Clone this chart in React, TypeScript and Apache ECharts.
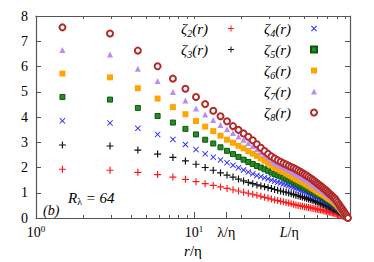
import React, { useEffect, useRef } from 'react';
import * as echarts from 'echarts';

// r/eta positions of the samples (evenly spaced in r)
const R = [
  1.47, 2.94, 4.41, 5.88, 7.35, 8.82, 10.29, 11.76, 13.23, 14.7, 16.17, 17.64, 19.11, 20.58, 22.05, 23.52,
  24.99, 26.46, 27.93, 29.4, 30.87, 32.34, 33.81, 35.28, 36.75, 38.22, 39.69, 41.16, 42.63, 44.1, 45.57, 47.04,
  48.51, 49.98, 51.45, 52.92, 54.39, 55.86, 57.33, 58.8, 60.27, 61.74, 63.21, 64.68, 66.15, 67.62, 69.09, 70.56,
  72.03, 73.5, 74.97, 76.44, 77.91, 79.38, 80.85, 82.32, 83.79, 85.26, 86.73, 88.2, 89.67, 91.14, 92.61, 94.08,
];

const ZETA2 = [
  1.93, 1.89, 1.81, 1.72, 1.62, 1.53, 1.44, 1.36, 1.29, 1.23, 1.17, 1.12, 1.07, 1.02, 0.98, 0.94,
  0.9, 0.86, 0.82, 0.79, 0.75, 0.71, 0.69, 0.66, 0.64, 0.61, 0.59, 0.56, 0.54, 0.51, 0.5, 0.48,
  0.47, 0.45, 0.44, 0.42, 0.41, 0.39, 0.38, 0.36, 0.35, 0.33, 0.32, 0.31, 0.29, 0.28, 0.26, 0.25,
  0.24, 0.22, 0.21, 0.19, 0.18, 0.16, 0.15, 0.13, 0.11, 0.1, 0.08, 0.07, 0.05, 0.03, 0.02, 0.0,
];
const ZETA3 = [
  2.89, 2.85, 2.69, 2.53, 2.4, 2.26, 2.13, 2.0, 1.89, 1.79, 1.7, 1.62, 1.54, 1.47, 1.41, 1.36,
  1.31, 1.27, 1.24, 1.2, 1.17, 1.13, 1.1, 1.07, 1.04, 1.02, 0.99, 0.96, 0.93, 0.9, 0.88, 0.85,
  0.83, 0.8, 0.78, 0.75, 0.73, 0.7, 0.68, 0.65, 0.63, 0.6, 0.58, 0.55, 0.53, 0.51, 0.48, 0.46,
  0.44, 0.41, 0.39, 0.36, 0.34, 0.31, 0.28, 0.25, 0.22, 0.19, 0.15, 0.12, 0.09, 0.06, 0.03, 0.0,
];
const ZETA4 = [
  3.85, 3.76, 3.55, 3.31, 3.11, 2.91, 2.71, 2.54, 2.41, 2.3, 2.19, 2.09, 1.99, 1.9, 1.82, 1.75,
  1.68, 1.64, 1.59, 1.55, 1.5, 1.46, 1.42, 1.39, 1.35, 1.32, 1.28, 1.24, 1.21, 1.17, 1.14, 1.1,
  1.07, 1.04, 1.01, 0.97, 0.94, 0.91, 0.87, 0.84, 0.81, 0.78, 0.75, 0.72, 0.69, 0.66, 0.64, 0.61,
  0.58, 0.55, 0.52, 0.49, 0.46, 0.42, 0.38, 0.33, 0.29, 0.25, 0.21, 0.17, 0.13, 0.08, 0.04, 0.0,
];
const ZETA5 = [
  4.79, 4.69, 4.36, 4.04, 3.78, 3.53, 3.31, 3.1, 2.95, 2.8, 2.66, 2.53, 2.42, 2.31, 2.22, 2.14,
  2.06, 2.0, 1.93, 1.87, 1.8, 1.74, 1.69, 1.65, 1.6, 1.55, 1.5, 1.46, 1.41, 1.36, 1.32, 1.28,
  1.24, 1.2, 1.17, 1.13, 1.09, 1.05, 1.01, 0.97, 0.94, 0.9, 0.87, 0.83, 0.8, 0.77, 0.73, 0.7,
  0.67, 0.63, 0.6, 0.56, 0.53, 0.48, 0.43, 0.39, 0.34, 0.29, 0.24, 0.19, 0.14, 0.1, 0.05, 0.0,
];
const ZETA6 = [
  5.72, 5.57, 5.14, 4.73, 4.39, 4.11, 3.84, 3.62, 3.44, 3.26, 3.1, 2.98, 2.86, 2.76, 2.65, 2.55,
  2.46, 2.36, 2.27, 2.17, 2.08, 1.98, 1.93, 1.87, 1.82, 1.76, 1.71, 1.66, 1.6, 1.55, 1.51, 1.46,
  1.42, 1.37, 1.33, 1.28, 1.24, 1.19, 1.15, 1.1, 1.06, 1.02, 0.98, 0.95, 0.91, 0.87, 0.83, 0.79,
  0.75, 0.72, 0.68, 0.64, 0.6, 0.55, 0.49, 0.44, 0.38, 0.33, 0.27, 0.22, 0.16, 0.11, 0.05, 0.0,
];
const ZETA7 = [
  6.65, 6.48, 5.91, 5.43, 4.99, 4.65, 4.34, 4.1, 3.88, 3.68, 3.51, 3.37, 3.23, 3.1, 2.97, 2.85,
  2.72, 2.61, 2.5, 2.4, 2.29, 2.18, 2.13, 2.07, 2.02, 1.96, 1.91, 1.86, 1.8, 1.75, 1.7, 1.65,
  1.6, 1.55, 1.51, 1.46, 1.41, 1.36, 1.31, 1.26, 1.22, 1.17, 1.13, 1.08, 1.04, 0.99, 0.95, 0.9,
  0.86, 0.81, 0.77, 0.72, 0.68, 0.62, 0.56, 0.49, 0.43, 0.37, 0.31, 0.25, 0.19, 0.12, 0.06, 0.0,
];
const ZETA8 = [
  7.55, 7.31, 6.63, 6.01, 5.52, 5.12, 4.79, 4.51, 4.25, 4.03, 3.83, 3.64, 3.49, 3.35, 3.22, 3.08,
  2.92, 2.78, 2.65, 2.54, 2.44, 2.36, 2.29, 2.23, 2.17, 2.12, 2.07, 2.02, 1.98, 1.93, 1.88, 1.83,
  1.78, 1.73, 1.68, 1.63, 1.58, 1.53, 1.48, 1.42, 1.37, 1.32, 1.27, 1.22, 1.17, 1.12, 1.07, 1.01,
  0.96, 0.91, 0.86, 0.81, 0.76, 0.69, 0.62, 0.55, 0.48, 0.41, 0.35, 0.28, 0.21, 0.14, 0.07, 0.0,
];

const SERIES_NAMES = ['ζ2(r)', 'ζ3(r)', 'ζ4(r)', 'ζ5(r)', 'ζ6(r)', 'ζ7(r)', 'ζ8(r)'];
const SERIES_VALUES = [ZETA2, ZETA3, ZETA4, ZETA5, ZETA6, ZETA7, ZETA8];

const X_MIN = 1;
const X_MAX = 97;
const LAMBDA_ETA = 16;
const L_ETA = 40;
const X_MINOR_TICKS = [2, 3, 4, 5, 6, 7, 8, 9, 20, 30, 40, 50, 60, 70, 80, 90];
const X_TOP_TICKS = [2, 3, 4, 5, 6, 7, 8, 9, 10, 20, 30, 40, 50, 60, 70, 80, 90];
const X_MAJOR_TICKS = [10, LAMBDA_ETA, L_ETA];
const X_LABEL_VALUES = [1, 10, LAMBDA_ETA, L_ETA];
const Y_MIN = 0;
const Y_MAX = 8;
const Y_STEP = 1;

const SERIF = '"Liberation Serif", "Times New Roman", serif';
const AXIS_COLOR = '#555';
const PLUS = 'path://M5,0H7V5H12V7H7V12H5V7H0V5H5Z';
const CROSS = 'path://M0,1.3L1.3,0L6,4.7L10.7,0L12,1.3L7.3,6L12,10.7L10.7,12L6,7.3L1.3,12L0,10.7L4.7,6Z';

const STYLES: any[] = [
  { symbol: PLUS, size: 7, color: '#ff1a1a' },
  { symbol: PLUS, size: 7, color: '#111111' },
  { symbol: CROSS, size: 6, color: '#2b2bff' },
  { symbol: 'rect', size: 5, color: '#2a8a2a', border: '#0b5a0b', bw: 1 },
  { symbol: 'rect', size: 6, color: '#ffa500' },
  { symbol: 'triangle', size: 6, color: '#b98cf5' },
  { symbol: 'emptyCircle', size: 6, color: '#b22a2a', bw: 1.1 },
];

const legendRich = {
  z: { fontFamily: SERIF, fontStyle: 'italic', fontSize: 15, lineHeight: 20, color: '#000', verticalAlign: 'middle' },
  e: { fontFamily: SERIF, fontStyle: 'italic', fontSize: 15, lineHeight: 20, color: '#000', verticalAlign: 'middle', padding: [0, 15, 0, 0] },
  s: { fontFamily: SERIF, fontStyle: 'italic', fontSize: 10, lineHeight: 10, color: '#000', verticalAlign: 'bottom' },
};
const legendFormatter = (name: string) => {
  const p = name.slice(1, name.indexOf('('));
  return `{z|ζ}{s|${p}}{e|(r)}`;
};

const legendBase = {
  orient: 'vertical',
  align: 'right',
  top: 21,
  padding: 0,
  itemGap: 3.5,
  itemWidth: 6,
  itemHeight: 6,
  selectedMode: false,
  formatter: legendFormatter,
  textStyle: { rich: legendRich },
};

export default function App() {
  const ref = useRef<HTMLDivElement>(null);
  useEffect(() => {
    document.body.style.margin = '0';
    if (!ref.current) return;
    const chart = echarts.init(ref.current, undefined, { renderer: 'svg' });

    const series = SERIES_NAMES.map((name, i) => {
      const st = STYLES[i];
      return {
        name,
        type: 'scatter',
        xAxisIndex: 0,
        yAxisIndex: 0,
        symbol: st.symbol,
        symbolSize: st.size,
        itemStyle: {
          color: st.color,
          borderColor: st.border || st.color,
          borderWidth: st.bw || 0,
          opacity: 1,
        },
        emphasis: { disabled: true },
        data: R.map((r, j) => [r, SERIES_VALUES[i][j]]),
      };
    });

    const xBase = {
      type: 'log',
      logBase: 10,
      min: X_MIN,
      max: X_MAX,
      splitLine: { show: false },
      minorTick: { show: false },
      minorSplitLine: { show: false },
    };

    const option: any = {
      animation: false,
      grid: { left: 36, right: 24, top: 16, bottom: 44, containLabel: false, outerBoundsMode: 'none' },
      xAxis: [
        {
          ...xBase,
          position: 'bottom',
          axisLine: { show: true, lineStyle: { color: AXIS_COLOR, width: 1.2 } },
          axisTick: { show: true, inside: true, length: 3, customValues: X_MINOR_TICKS, lineStyle: { color: AXIS_COLOR } },
          axisLabel: {
            show: true,
            margin: 6,
            customValues: X_LABEL_VALUES,
            formatter: (v: number) => {
              if (Math.abs(v - 1) < 1e-6) return '{n|10}{sup|0}';
              if (Math.abs(v - 10) < 1e-6) return '{n|10}{sup|1}';
              if (Math.abs(v - LAMBDA_ETA) < 0.5) return '{n|λ/η}';
              return '{i|L}{n|/η}';
            },
            rich: {
              n: { fontFamily: SERIF, fontSize: 14, lineHeight: 16, color: '#000' },
              i: { fontFamily: SERIF, fontStyle: 'italic', fontSize: 14, lineHeight: 16, color: '#000' },
              sup: { fontFamily: SERIF, fontSize: 9, lineHeight: 9, color: '#000', verticalAlign: 'top' },
            },
          },
          name: '{i|r}{n|/η}',
          nameLocation: 'middle',
          nameGap: 25,
          nameTextStyle: {
            rich: {
              i: { fontFamily: SERIF, fontStyle: 'italic', fontSize: 15, lineHeight: 16, color: '#000' },
              n: { fontFamily: SERIF, fontSize: 15, lineHeight: 16, color: '#000' },
            },
          },
        },
        {
          ...xBase,
          position: 'bottom',
          axisLine: { show: false },
          axisTick: { show: true, inside: true, length: 6, customValues: X_MAJOR_TICKS, lineStyle: { color: AXIS_COLOR } },
          axisLabel: { show: false },
        },
        {
          ...xBase,
          position: 'top',
          axisLine: { show: true, lineStyle: { color: AXIS_COLOR, width: 1.2 } },
          axisTick: { show: true, inside: true, length: 3, customValues: X_TOP_TICKS, lineStyle: { color: AXIS_COLOR } },
          axisLabel: { show: false },
        },
      ],
      yAxis: [
        {
          type: 'value',
          position: 'left',
          min: Y_MIN,
          max: Y_MAX,
          interval: Y_STEP,
          splitLine: { show: false },
          axisLine: { show: true, lineStyle: { color: AXIS_COLOR, width: 1.2 } },
          axisTick: { show: true, inside: true, length: 5, lineStyle: { color: AXIS_COLOR } },
          axisLabel: { margin: 8, fontFamily: SERIF, fontSize: 14, color: '#000' },
        },
        {
          type: 'value',
          position: 'right',
          min: Y_MIN,
          max: Y_MAX,
          interval: Y_STEP,
          splitLine: { show: false },
          axisLine: { show: true, lineStyle: { color: AXIS_COLOR, width: 1.2 } },
          axisTick: { show: true, inside: true, length: 5, lineStyle: { color: AXIS_COLOR } },
          axisLabel: { show: false },
        },
      ],
      legend: [
        { ...legendBase, data: SERIES_NAMES.slice(0, 2), right: 140 },
        { ...legendBase, data: SERIES_NAMES.slice(2), right: 56 },
      ],
      graphic: [
        {
          type: 'text',
          left: 43,
          top: 203,
          style: { text: '(b)', font: `italic 14px ${SERIF}`, fill: '#000' },
        },
        {
          type: 'text',
          left: 68,
          top: 190,
          style: {
            text: '{i|R}{s|λ}{i| = 64}',
            rich: {
              i: { fontFamily: SERIF, fontStyle: 'italic', fontSize: 15, lineHeight: 18, fill: '#000', verticalAlign: 'middle' },
              s: { fontFamily: SERIF, fontSize: 10, lineHeight: 10, fill: '#000', verticalAlign: 'bottom' },
            },
          },
        },
      ],
      series,
    };

    chart.setOption(option);
    return () => chart.dispose();
  }, []);

  return <div ref={ref} style={{ width: 374, height: 262 }} />;
}
